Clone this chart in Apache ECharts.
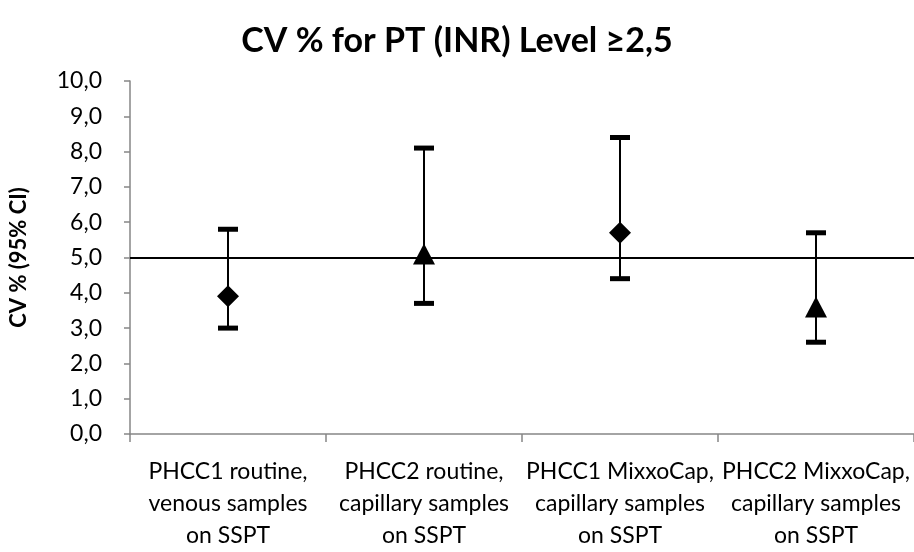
<!DOCTYPE html>
<html>
<head>
<meta charset="utf-8">
<script src="https://cdn.jsdelivr.net/npm/echarts@6/dist/echarts.min.js"></script>
<style>
  html, body { margin: 0; padding: 0; background: #fff; overflow: hidden; }
  #myChart { width: 100vw; height: 100vh; }
</style>
</head>
<body>
<div id="myChart"></div>
<script>
// data
const categories = [
  "PHCC1 routine,\nvenous samples\non SSPT",
  "PHCC2 routine,\ncapillary samples\non SSPT",
  "PHCC1 MixxoCap,\ncapillary samples\non SSPT",
  "PHCC2 MixxoCap,\ncapillary samples\non SSPT"
];
const cvValues = [3.9, 5.1, 5.7, 3.6];
const ciLower = [3.0, 3.7, 4.4, 2.6];
const ciUpper = [5.8, 8.1, 8.4, 5.7];
const markerShapes = ["diamond", "triangle", "diamond", "triangle"];
const refLine = 5.0;
const yTicks = [0, 1, 2, 3, 4, 5, 6, 7, 8, 9, 10];

const font = "Lato, 'Open Sans', sans-serif";

let myChart = echarts.init(document.getElementById("myChart"));

const errorData = categories.map((c, i) => [i, ciLower[i], ciUpper[i]]);
const pointData = cvValues.map((v, i) => ({
  value: [i, v],
  symbol: markerShapes[i],
  symbolSize: markerShapes[i] === "diamond" ? [22, 22] : [22, 21]
}));

myChart.setOption({
  animation: false,
  title: {
    text: "CV % for PT (INR) Level \u22652,5",
    left: "center",
    top: 19,
    textStyle: { fontFamily: font, fontSize: 34, fontWeight: "bold", color: "#000" }
  },
  grid: { left: 130, right: -8, top: 81, bottom: 117, containLabel: false },
  xAxis: {
    type: "category",
    data: categories,
    boundaryGap: true,
    axisLine: { lineStyle: { color: "#868686", width: 1.5 } },
    axisTick: { show: true, length: 8, lineStyle: { color: "#868686", width: 1.5 } },
    axisLabel: {
      margin: 22,
      fontFamily: font,
      fontSize: 23,
      lineHeight: 32,
      color: "#000",
      interval: 0
    }
  },
  yAxis: {
    type: "value",
    min: yTicks[0],
    max: yTicks[yTicks.length - 1],
    interval: 1,
    name: "CV % (95% CI)",
    nameLocation: "middle",
    nameGap: 100,
    nameRotate: 90,
    nameTextStyle: { fontFamily: font, fontSize: 22, fontWeight: "bold", color: "#000" },
    axisLine: { show: true, lineStyle: { color: "#868686", width: 1.5 } },
    axisTick: { show: true, length: 6, lineStyle: { color: "#868686", width: 1.5 } },
    splitLine: { show: false },
    axisLabel: {
      margin: 28,
      fontFamily: font,
      fontSize: 23,
      color: "#000",
      align: "right",
      formatter: (v) => v.toFixed(1).replace(".", ",")
    }
  },
  series: [
    {
      type: "custom",
      z: 3,
      data: errorData,
      renderItem: function (params, api) {
        const x = api.value(0);
        const lo = api.coord([x, api.value(1)]);
        const hi = api.coord([x, api.value(2)]);
        const capW = 20, capH = 5;
        return {
          type: "group",
          children: [
            {
              type: "line",
              shape: { x1: lo[0], y1: lo[1], x2: hi[0], y2: hi[1] },
              style: { stroke: "#000", lineWidth: 2 }
            },
            {
              type: "rect",
              shape: { x: hi[0] - capW / 2, y: hi[1] - capH / 2, width: capW, height: capH },
              style: { fill: "#000" }
            },
            {
              type: "rect",
              shape: { x: lo[0] - capW / 2, y: lo[1] - capH / 2, width: capW, height: capH },
              style: { fill: "#000" }
            }
          ]
        };
      }
    },
    {
      type: "scatter",
      z: 5,
      data: pointData,
      itemStyle: { color: "#000", opacity: 1 },
      markLine: {
        silent: true,
        symbol: ["none", "none"],
        label: { show: false },
        lineStyle: { color: "#000", width: 2, type: "solid" },
        data: [{ yAxis: refLine }]
      }
    }
  ]
});
</script>
</body>
</html>
